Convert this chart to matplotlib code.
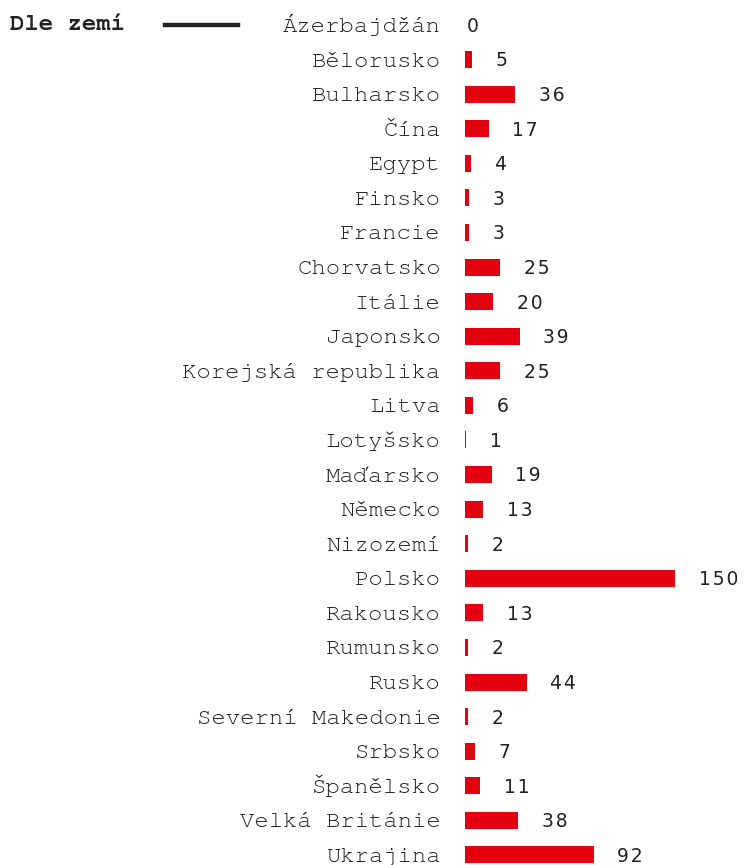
import numpy as np
import matplotlib.pyplot as plt
from matplotlib.lines import Line2D

countries = ['Ázerbajdžán', 'Bělorusko', 'Bulharsko', 'Čína', 'Egypt', 'Finsko',
             'Francie', 'Chorvatsko', 'Itálie', 'Japonsko', 'Korejská republika',
             'Litva', 'Lotyšsko', 'Maďarsko', 'Německo', 'Nizozemí', 'Polsko',
             'Rakousko', 'Rumunsko', 'Rusko', 'Severní Makedonie', 'Srbsko',
             'Španělsko', 'Velká Británie', 'Ukrajina']
counts = [0, 5, 36, 17, 4, 3, 3, 25, 20, 39, 25, 6, 1, 19, 13, 2, 150, 13, 2,
          44, 2, 7, 11, 38, 92]
title = 'Dle zemí'

W, H = 744, 865
red = '#e3000f'
ink = '#222222'
mono = ['FreeMono', 'Liberation Mono', 'DejaVu Sans Mono']

fig = plt.figure(figsize=(W / 100, H / 100), dpi=100)
# bars start at x=465px, 1.4 px per unit, rows 34.6px apart from y=25px
ax = fig.add_axes([465 / W, 0, 1 - 465 / W, 1])
step = 830 / 24
ax.set_xlim(0, (W - 465) / 1.4)
ax.set_ylim((H - 25) / step, -25 / step)
ax.axis('off')

y = np.arange(len(countries))
ax.barh(y, counts, height=17 / step, color=red, left=0)

# country names, right aligned left of the bars, caps centred on the bar
for yi, name in zip(y, countries):
    ax.annotate(name, (0, yi), xytext=(-17.5, -5), textcoords='offset points',
                va='baseline', ha='right', fontsize=17.2, color=ink,
                family=mono, annotation_clip=False)

for yi, v in zip(y, counts):
    txt = '\u200a'.join(str(v))
    off = 17 if v > 0 else 1
    ax.annotate(txt, (v, yi), xytext=(off, -1), textcoords='offset points',
                va='center', ha='left', fontsize=13.5, color=ink,
                family='DejaVu Sans')

fig.text(10 / W, 1 - 25 / H, title, family=mono, weight='bold',
         fontsize=17.2, color=ink, va='center', ha='left')
fig.add_artist(Line2D([165 / W, 238 / W], [1 - 25 / H, 1 - 25 / H],
                      transform=fig.transFigure, color=ink, lw=3.2))

fig.savefig('out.png', dpi=100)
